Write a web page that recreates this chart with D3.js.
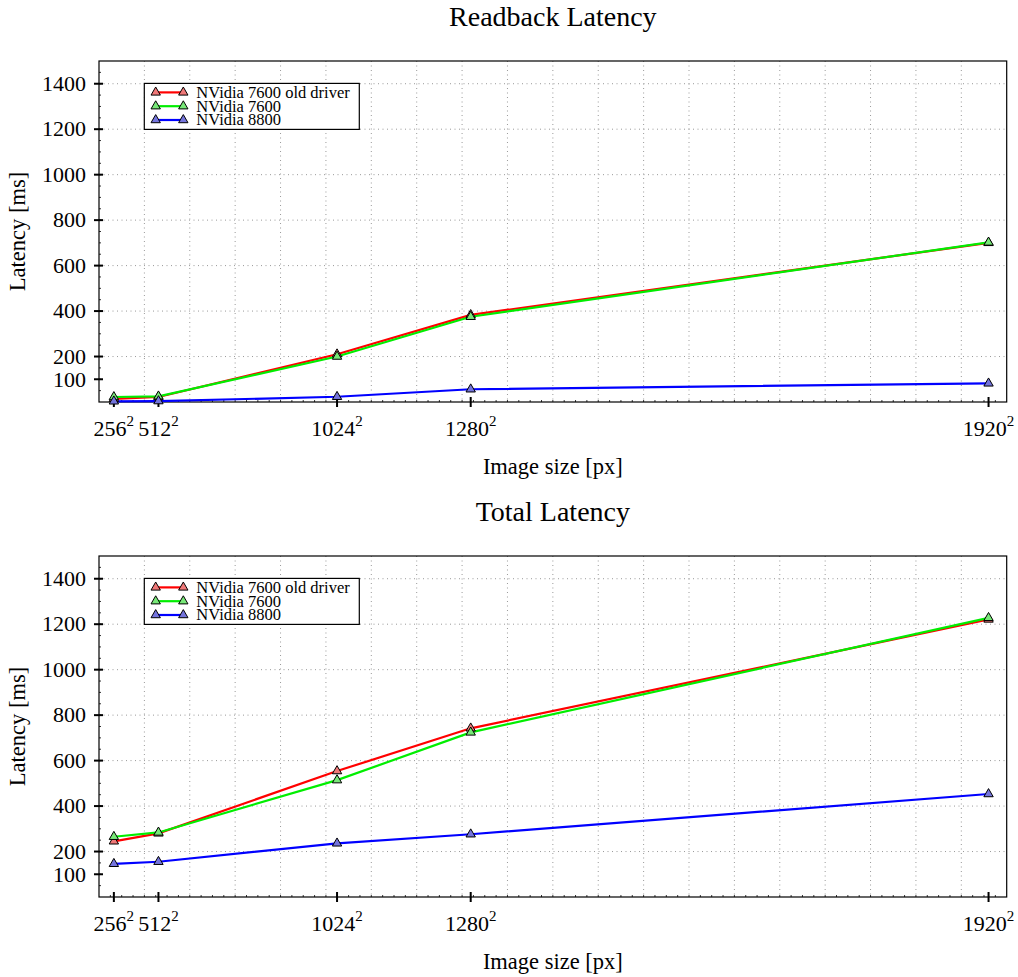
<!DOCTYPE html>
<html>
<head>
<meta charset="utf-8">
<script src="https://cdn.jsdelivr.net/npm/d3@7"></script>
<style>
  body { margin: 0; background: #fff; }
  svg { display: block; font-family: "Liberation Serif", "Times New Roman", serif; }
</style>
</head>
<body>
<svg id="chart" width="1018" height="977"></svg>
<script>
// image sizes (side length in px) and their pixel count in megapixels
const sizeLabels = ["256", "512", "1024", "1280", "1920"];
const sizeMpx = [0.0655, 0.262, 1.049, 1.638, 3.92];

const seriesNames = ["NVidia 7600 old driver", "NVidia 7600", "NVidia 8800"];

// latency in ms
const readbackOld = [14, 22, 210, 383, 700];
const readback7600 = [22, 25, 200, 375, 702];
const readback8800 = [3, 4, 23, 56, 82];

const totalOld = [245, 280, 554, 742, 1221];
const total7600 = [265, 284, 514, 724, 1228];
const total8800 = [146, 155, 236, 276, 453];

const yTicks = [100, 200, 400, 600, 800, 1000, 1200, 1400];
const yGrid = [200, 400, 600, 800, 1000, 1200, 1400];

const lineColors = ["#ff0000", "#00ee00", "#0000ff"];
const markFills = ["#f07878", "#78e878", "#7474dc"];

const svg = d3.select("#chart");
const left = 99, right = 1006.7;
const plotH = 341;

const x = d3.scaleLinear().domain([0, 4.0]).range([left, right]);

function drawPanel(title, top, values) {
  const bottom = top + plotH;
  const y = d3.scaleLinear().domain([0, 1500]).range([bottom, top]);
  const g = svg.append("g");

  // title
  g.append("text")
    .attr("x", (left + right) / 2)
    .attr("y", top - 35)
    .attr("text-anchor", "middle")
    .style("font-size", "28px")
    .text(title);

  // dotted grid
  g.append("g").selectAll("line")
    .data(d3.range(1, 20).map(i => i * 0.2))
    .join("line")
      .attr("x1", d => x(d)).attr("x2", d => x(d))
      .attr("y1", top).attr("y2", bottom)
      .attr("stroke", "#999").attr("stroke-dasharray", "1,3.5");

  g.append("g").selectAll("line")
    .data(yGrid)
    .join("line")
      .attr("x1", left).attr("x2", right)
      .attr("y1", d => y(d)).attr("y2", d => y(d))
      .attr("stroke", "#999").attr("stroke-dasharray", "1,3.5");

  // minor ticks
  g.append("g").selectAll("line")
    .data(d3.range(1, 80).map(i => i * 0.05))
    .join("line")
      .attr("x1", d => x(d)).attr("x2", d => x(d))
      .attr("y1", bottom).attr("y2", bottom - 2)
      .attr("stroke", "#000").attr("stroke-width", 0.8);
  g.append("g").selectAll("line")
    .data(d3.range(1, 30).map(i => i * 50))
    .join("line")
      .attr("x1", left).attr("x2", left + 2)
      .attr("y1", d => y(d)).attr("y2", d => y(d))
      .attr("stroke", "#000").attr("stroke-width", 0.8);

  // frame
  g.append("rect")
    .attr("x", left).attr("y", top)
    .attr("width", right - left).attr("height", plotH)
    .attr("fill", "none").attr("stroke", "#000").attr("stroke-width", 1.2);

  // y ticks
  g.append("g").selectAll("line")
    .data(yTicks)
    .join("line")
      .attr("x1", left - 5).attr("x2", left + 4)
      .attr("y1", d => y(d)).attr("y2", d => y(d))
      .attr("stroke", "#000").attr("stroke-width", 2);
  g.append("g").selectAll("text")
    .data(yTicks)
    .join("text")
      .attr("x", left - 13)
      .attr("y", d => y(d))
      .attr("dy", "0.33em")
      .attr("text-anchor", "end")
      .style("font-size", "22px")
      .text(d => d);

  // x ticks
  g.append("g").selectAll("line")
    .data(sizeMpx)
    .join("line")
      .attr("x1", d => x(d)).attr("x2", d => x(d))
      .attr("y1", bottom - 5).attr("y2", bottom + 5)
      .attr("stroke", "#000").attr("stroke-width", 2);
  const xl = g.append("g").selectAll("text")
    .data(sizeLabels)
    .join("text")
      .attr("x", (d, i) => x(sizeMpx[i]))
      .attr("y", bottom + 34)
      .attr("text-anchor", "middle")
      .style("font-size", "22px");
  xl.append("tspan").text(d => d);
  xl.append("tspan").attr("dy", -10).style("font-size", "15px").text("2");

  // axis labels
  g.append("text")
    .attr("x", (left + right) / 2)
    .attr("y", bottom + 72)
    .attr("text-anchor", "middle")
    .style("font-size", "22.5px")
    .text("Image size [px]");
  g.append("text")
    .attr("transform", `translate(25,${(top + bottom) / 2}) rotate(-90)`)
    .attr("text-anchor", "middle")
    .style("font-size", "22.5px")
    .text("Latency [ms]");

  const line = d3.line()
    .x((d, i) => x(sizeMpx[i]))
    .y(d => y(d));
  const tri = d3.symbol(d3.symbolTriangle, 38);

  values.forEach((vals, s) => {
    g.append("path")
      .datum(vals)
      .attr("fill", "none")
      .attr("stroke", lineColors[s])
      .attr("stroke-width", 2.2)
      .attr("d", line);
  });
  values.forEach((vals, s) => {
    g.append("g").selectAll("path")
      .data(vals)
      .join("path")
        .attr("transform", (d, i) => `translate(${x(sizeMpx[i])},${y(d)})`)
        .attr("d", tri)
        .attr("fill", markFills[s])
        .attr("stroke", "#000")
        .attr("stroke-width", 1);
  });

  // legend
  const lg = g.append("g").attr("transform", `translate(144.3,${top + 22.4})`);
  lg.append("rect")
    .attr("width", 215).attr("height", 46)
    .attr("fill", "#fff").attr("stroke", "#000").attr("stroke-width", 1.2);
  seriesNames.forEach((name, s) => {
    const ry = 9 + s * 13.8;
    lg.append("line")
      .attr("x1", 11.4).attr("x2", 39)
      .attr("y1", ry).attr("y2", ry)
      .attr("stroke", lineColors[s]).attr("stroke-width", 2.2);
    [11.4, 39].forEach(px => {
      lg.append("path")
        .attr("transform", `translate(${px},${ry})`)
        .attr("d", tri)
        .attr("fill", markFills[s])
        .attr("stroke", "#000");
    });
    lg.append("text")
      .attr("x", 52).attr("y", ry)
      .attr("dy", "0.33em")
      .style("font-size", "16.5px")
      .text(name);
  });
}

drawPanel("Readback Latency", 61, [readbackOld, readback7600, readback8800]);
drawPanel("Total Latency", 556, [totalOld, total7600, total8800]);
</script>
</body>
</html>
